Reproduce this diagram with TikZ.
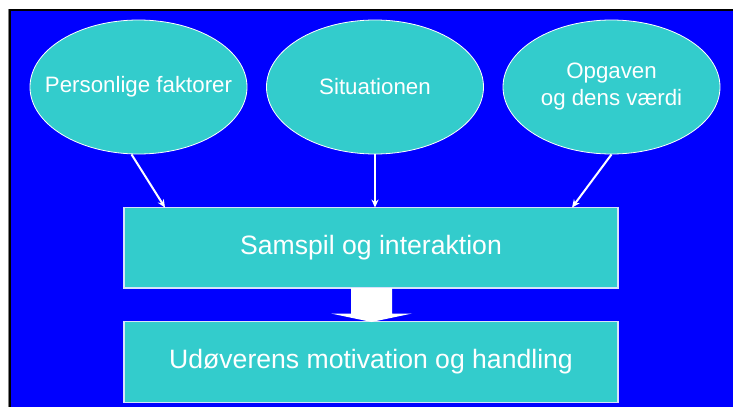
\documentclass[tikz,border=0pt]{standalone}
\usepackage{fontspec}
\setmainfont{Liberation Sans}
\usetikzlibrary{arrows.meta,shapes.geometric}
\definecolor{slideblue}{RGB}{0,0,255}
\definecolor{teal}{RGB}{51,204,204}
\definecolor{edgegray}{RGB}{215,225,250}
\tikzset{
  bubble/.style={ellipse, fill=teal, draw=white, line width=0.8pt,
    minimum width=217pt, minimum height=134pt, inner sep=0pt},
  bubbletext/.style={text=white, font=\fontsize{22.3}{27}\selectfont,
    align=center, inner sep=0pt},
  panel/.style={rectangle, fill=teal, draw=edgegray, line width=1.2pt,
    minimum width=494pt, minimum height=80.5pt, inner sep=0pt,
    text=white, font=\fontsize{26.6}{32}\selectfont},
  feed/.style={draw=white, line width=2pt, -{Stealth[length=8pt,width=7pt]}}
}
\begin{document}
\begin{tikzpicture}[x=1pt,y=-1pt]
  % page and slide frame
  \useasboundingbox (0,0) rectangle (733,407);
  \fill[white] (0,0) rectangle (733,407);
  \fill[slideblue] (9.5,9.5) rectangle (733,407);
  \draw[black, line width=2pt] (9.5,407) -- (9.5,9.5) -- (733,9.5);
  \draw[gray, line width=0.8pt] (8,9) -- (8,407);

  % three influencing factors
  \node[bubble, label={[bubbletext]center:Personlige faktorer}] (e1) at (138.5,87) {};
  \node[bubble, label={[bubbletext]center:Situationen}] (e2) at (375,87) {};
  \node[bubble, label={[bubbletext]center:Opgaven\\og dens værdi}] (e3) at (611.5,87) {};

  % interaction and outcome
  \node[panel] (box1) at (371,247.8) {Samspil og interaktion};
  \node[panel] (box2) at (371,362) {Udøverens motivation og handling};

  % arrow end points on the interaction panel
  \coordinate (t1) at (165,207.6);
  \coordinate (t2) at (375,207.6);
  \coordinate (t3) at (572,207.6);
  \draw[feed] ([xshift=-7pt]e1.south) -- (t1);
  \draw[feed] (e2.south) -- (t2);
  \draw[feed] (e3.south) -- (t3);

  % broad block arrow between the panels
  \fill[white] (351,288) -- (392,288) -- (392,313.5) -- (412,313.5)
    -- (371.5,322) -- (331,313.5) -- (351,313.5) -- cycle;
\end{tikzpicture}
\end{document}
